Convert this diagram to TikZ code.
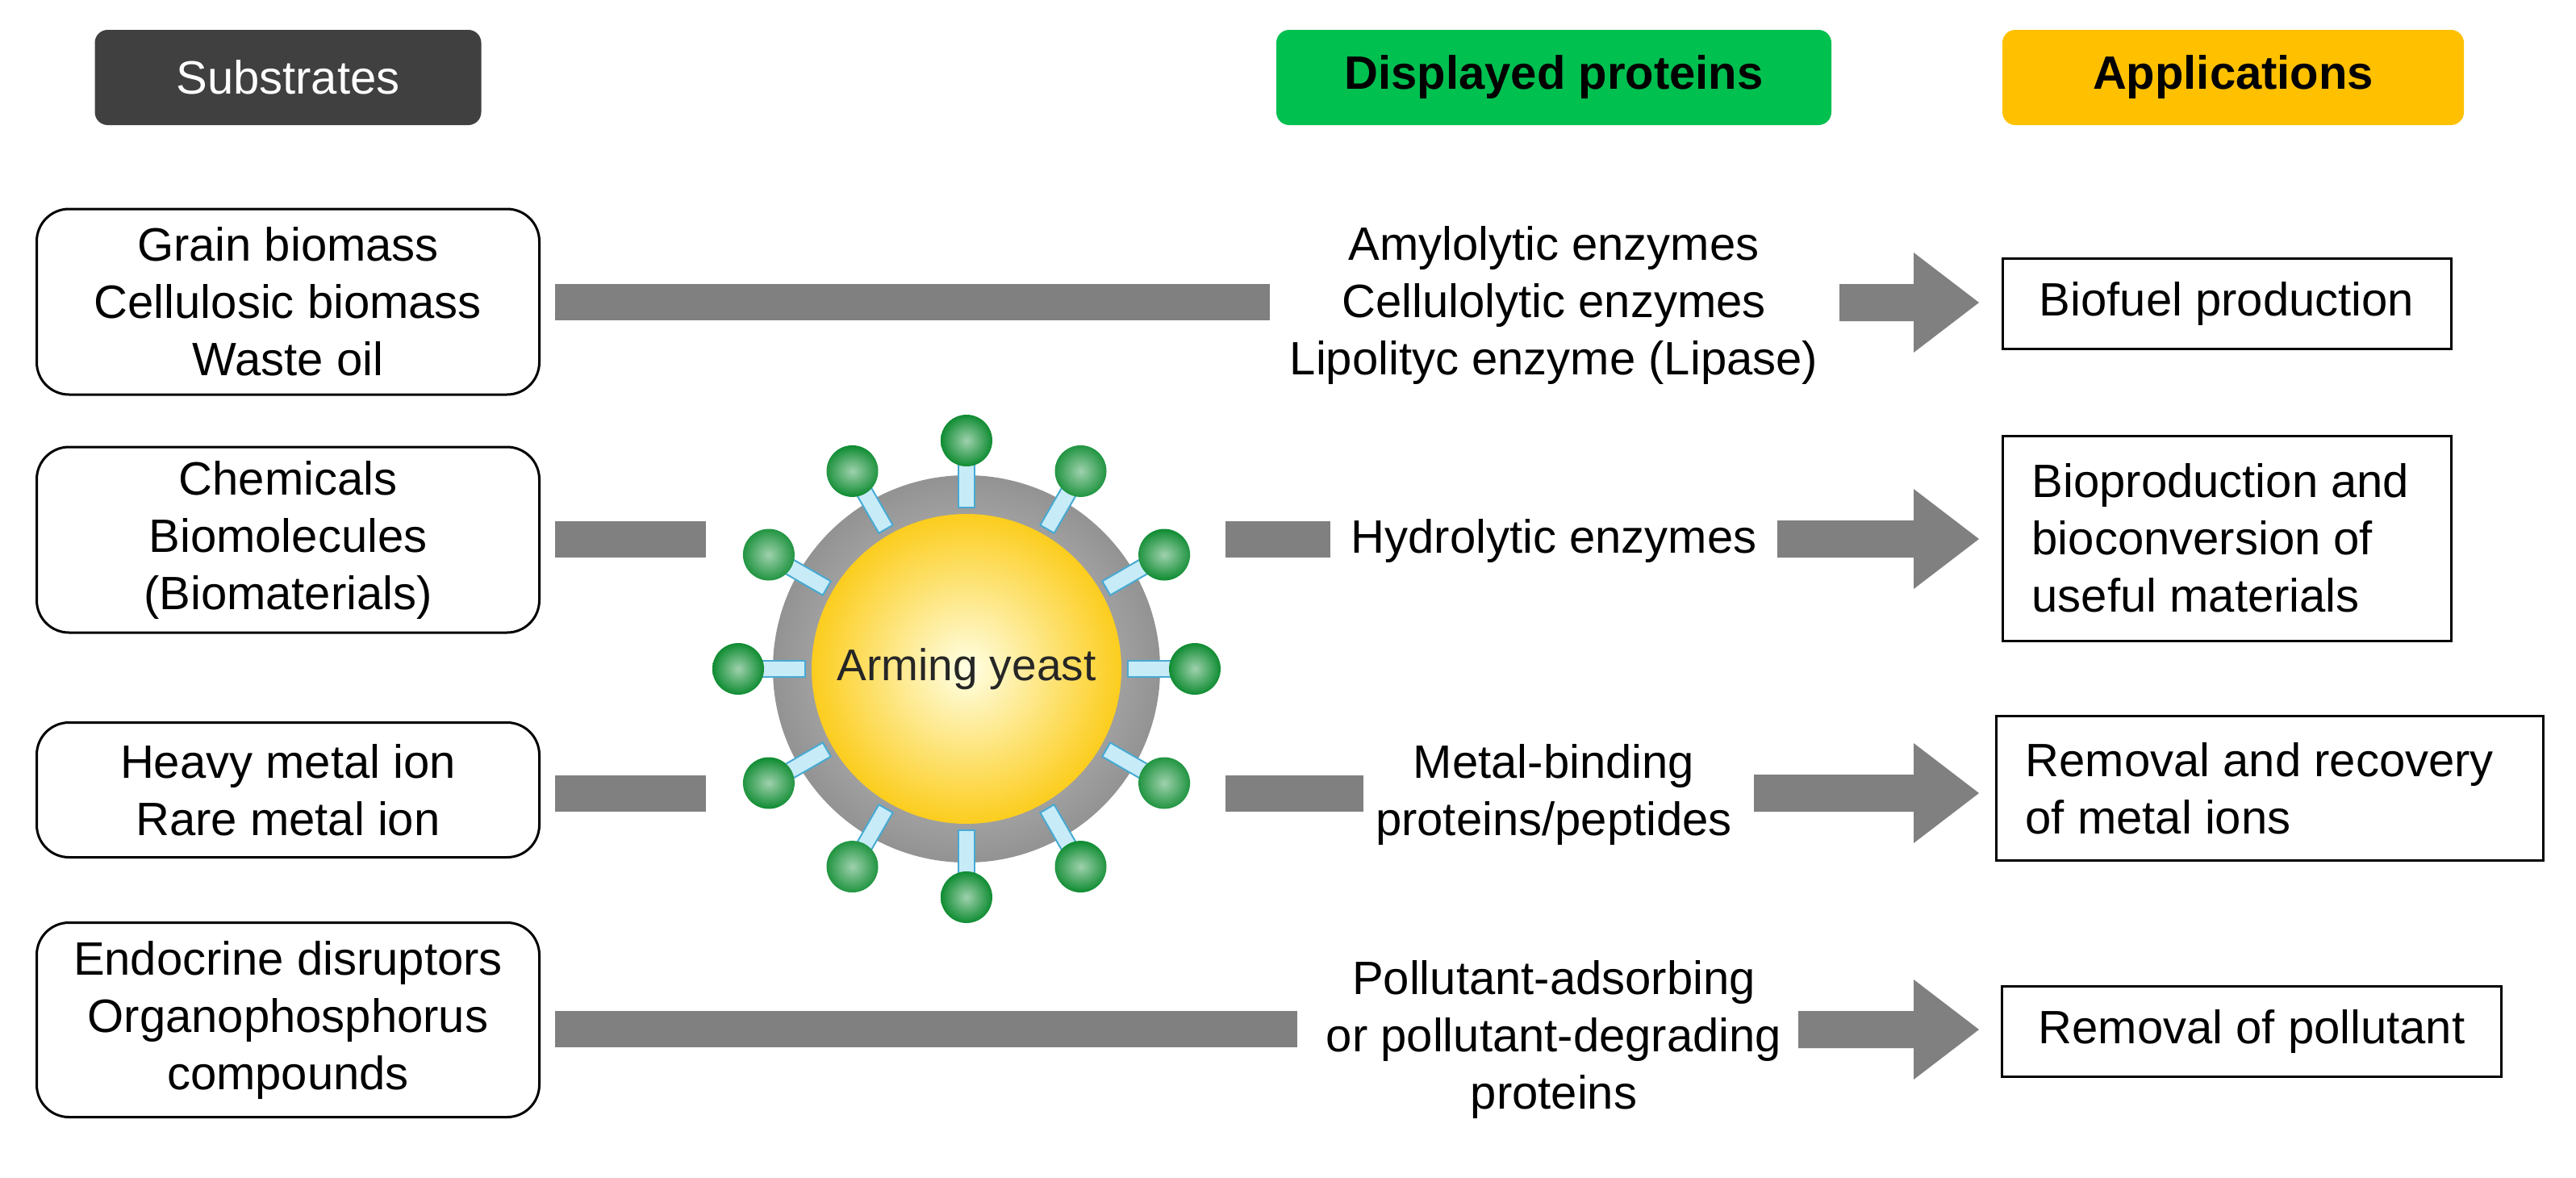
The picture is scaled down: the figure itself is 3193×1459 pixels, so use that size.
\documentclass[tikz,border=0pt]{standalone}
\usepackage{fontspec}
\setmainfont{Liberation Sans}
\definecolor{bar}{RGB}{128,128,128}
\definecolor{dgray}{RGB}{64,64,64}
\definecolor{pgreen}{RGB}{0,192,80}
\definecolor{ayellow}{RGB}{255,192,0}
\definecolor{ygold}{RGB}{252,205,30}
\definecolor{ball}{RGB}{15,140,50}
\definecolor{stick}{RGB}{200,235,248}
\definecolor{stickb}{RGB}{70,170,210}
\begin{document}
\begin{tikzpicture}[x=1pt,y=-1pt,
 txt/.style={font=\fontsize{58}{71}\selectfont,align=center,inner sep=0},
 sub/.style={draw,line width=3pt,rounded corners=40pt,minimum width=623pt},
 app/.style={draw,line width=3pt,inner sep=0},
 hdr/.style={rounded corners=16pt,minimum height=118pt,font=\fontsize{58}{60}\selectfont},
 bar/.style={fill=bar,draw=none}]
\useasboundingbox (0,0) rectangle (3193,1459);
% headers
\node[hdr,fill=dgray,text=white,minimum width=479pt] (h1) at (357,96) {Substrates};
\node[hdr,fill=pgreen,minimum width=688pt,font=\fontsize{58}{60}\selectfont\bfseries] (h2) at (1926,96) {Displayed proteins};
\node[hdr,fill=ayellow,minimum width=572pt,font=\fontsize{58}{60}\selectfont\bfseries] (h3) at (2768,96) {Applications};
% substrate boxes
\node[sub,txt,minimum height=230pt] (s1) at (357,374) {Grain biomass\\Cellulosic biomass\\Waste oil};
\node[sub,txt,minimum height=230pt] (s2) at (357,669) {Chemicals\\Biomolecules\\(Biomaterials)};
\node[sub,txt,minimum height=167pt] (s3) at (357,979) {Heavy metal ion\\Rare metal ion};
\node[sub,txt,minimum height=241pt] (s4) at (357,1264) {Endocrine disruptors\\Organophosphorus\\compounds};
% protein texts
\node[txt] (p1) at (1926,378) {Amylolytic enzymes\\Cellulolytic enzymes\\Lipolityc enzyme (Lipase)};
\node[txt] (p2) at (1926,670) {Hydrolytic enzymes};
\node[txt] (p3) at (1926,985) {Metal-binding\\proteins/peptides};
\node[txt] (p4) at (1926,1288) {Pollutant-adsorbing\\or pollutant-degrading\\proteins};
% application boxes
\node[app,minimum width=556pt,minimum height=112pt] (a1) at (2760,376) {};
\node[txt] at (a1) {Biofuel production};
\node[app,minimum width=556pt,minimum height=254pt] (a2) at (2760,667) {};
\node[txt,align=left,anchor=west] at ([xshift=38pt]a2.west) {Bioproduction and\\bioconversion of\\useful materials};
\node[app,minimum width=678pt,minimum height=179pt] (a3) at (2813,977) {};
\node[txt,align=left,anchor=west] at ([xshift=38pt]a3.west) {Removal and recovery\\of metal ions};
\node[app,minimum width=619pt,minimum height=112pt] (a4) at (2791,1278) {};
\node[txt] at (a4) {Removal of pollutant};
% bars
\fill[bar] (688,352) rectangle (1574,397);
\fill[bar] (688,646) rectangle (875,691);
\fill[bar] (1519,646) rectangle (1649,691);
\fill[bar] (688,961) rectangle (875,1006);
\fill[bar] (1519,961) rectangle (1690,1006);
\fill[bar] (688,1253) rectangle (1608,1298);
% arrows
\foreach \xa/\y in {2280/375,2203/668,2174/983,2229/1276}{
 \fill[bar] (\xa,\y-23) -- (2372,\y-23) -- (2372,\y-62) -- (2453,\y) -- (2372,\y+62) -- (2372,\y+23) -- (\xa,\y+23) -- cycle;
}
% yeast
\begin{scope}[shift={(1198,829)}]
 \shade[inner color=gray!35,outer color=gray!85] (0,0) circle (240);
 \foreach \a in {0,30,...,330}{
  \begin{scope}[rotate=\a]
   \draw[fill=stick,draw=stickb,line width=2pt] (200,-10) rectangle (258,10);
   \shade[inner color=ball!40!white,outer color=ball] (283,0) circle (32);
  \end{scope}
 }
 \shade[inner color=white!90!yellow,outer color=ygold] (0,0) circle (192);
 \node[font=\fontsize{55}{60}\selectfont,text=black!85] (yt) at (0,0) {Arming yeast};
\end{scope}
\end{tikzpicture}
\end{document}
